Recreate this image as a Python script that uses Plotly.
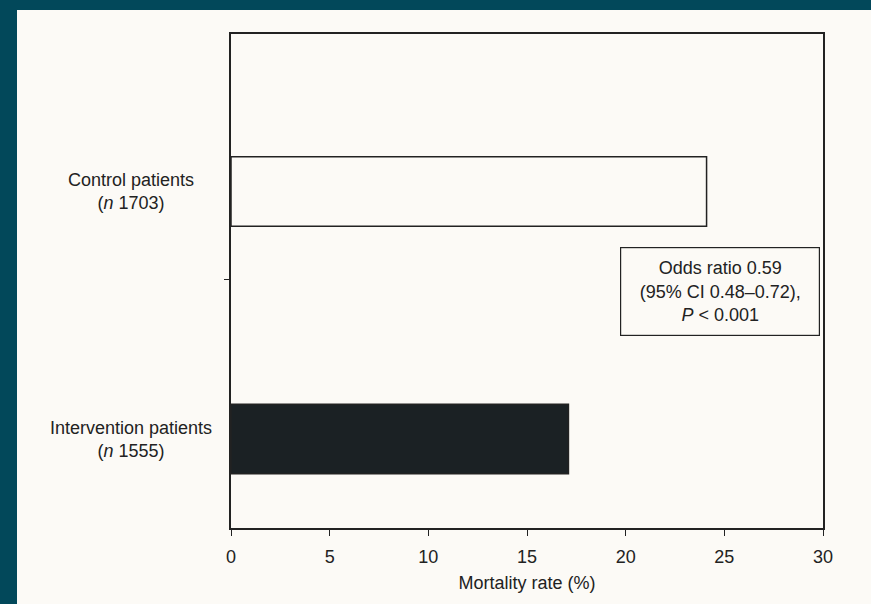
import plotly.graph_objects as go

# Data
groups = ["Intervention patients", "Control patients"]
group_n = ["1555", "1703"]
mortality = [17.1, 24.1]
group_pos = [0, 1]
x_ticks = [0, 5, 10, 15, 20, 25, 30]
x_title = "Mortality rate (%)"
stat_lines = ["Odds ratio 0.59", "(95% CI 0.48–0.72),", "<i>P</i> < 0.001"]

FONT = "Liberation Sans, Arial, Helvetica, sans-serif"
PAPER = "#fcfaf6"
TEAL = "#02485a"
INK = "#222222"

W, H = 871, 604
L, R, T, B = 231, 48, 34, 76
pw, ph = W - L - R, H - T - B

def px_x(p):
    return (p - L) / pw

def px_y(p):
    return (H - B - p) / ph

fig = go.Figure()
fig.add_trace(go.Bar(
    y=group_pos, x=mortality, orientation="h", width=0.28,
    marker=dict(color=["#1b2124", PAPER], line=dict(color=INK, width=1.5)),
    showlegend=False, hoverinfo="skip",
))

# teal scan border strips (top and left)
fig.add_shape(type="rect", xref="paper", yref="paper",
              x0=px_x(-5), x1=px_x(W + 5), y0=px_y(10), y1=px_y(-5),
              fillcolor=TEAL, line=dict(width=0), layer="below")
fig.add_shape(type="rect", xref="paper", yref="paper",
              x0=px_x(-5), x1=px_x(17), y0=px_y(H + 5), y1=px_y(-5),
              fillcolor=TEAL, line=dict(width=0), layer="below")

for g, n, pos in zip(groups, group_n, group_pos):
    fig.add_annotation(xref="paper", yref="y", x=px_x(131), y=pos,
                       text=f"{g}<br>(<i>n</i> {n})", showarrow=False,
                       align="center", xanchor="center", yanchor="middle",
                       font=dict(family=FONT, size=18, color=INK))

fig.add_annotation(xref="paper", yref="paper", x=px_x(720), y=px_y(291.5),
                   text="<br>".join(stat_lines), showarrow=False,
                   align="center", xanchor="center", yanchor="middle",
                   width=190, height=79, borderpad=4,
                   bordercolor=INK, borderwidth=1.2,
                   font=dict(family=FONT, size=18, color=INK))

ymin = -(528 - 439) / 247.5
ymax = 1 + (191.5 - 34) / 247.5

fig.update_layout(
    width=W, height=H,
    margin=dict(l=L, r=R, t=T, b=B, pad=0),
    paper_bgcolor=PAPER, plot_bgcolor=PAPER,
    font=dict(family=FONT, size=18, color=INK),
    xaxis=dict(range=[0, 30], tickvals=x_ticks, ticks="outside", ticklen=6,
               tickwidth=1.3, tickcolor=INK, ticklabelstandoff=6,
               showline=True, linecolor=INK, linewidth=1.5, mirror=True,
               showgrid=False, zeroline=False,
               title=dict(text=x_title, standoff=10,
                          font=dict(family=FONT, size=18, color=INK)),
               tickfont=dict(family=FONT, size=18, color=INK)),
    yaxis=dict(range=[ymin, ymax], tickvals=[0.646], ticktext=[""],
               ticks="outside", ticklen=5, tickwidth=1.3, tickcolor=INK,
               showline=True, linecolor=INK, linewidth=1.5, mirror=True,
               showgrid=False, zeroline=False),
)

fig.write_html(
    "out.html",
    config={"displayModeBar": False},
    post_script="document.body.style.margin='0';"
                "document.body.style.overflow='hidden';"
                "document.body.style.background='" + PAPER + "';",
)
